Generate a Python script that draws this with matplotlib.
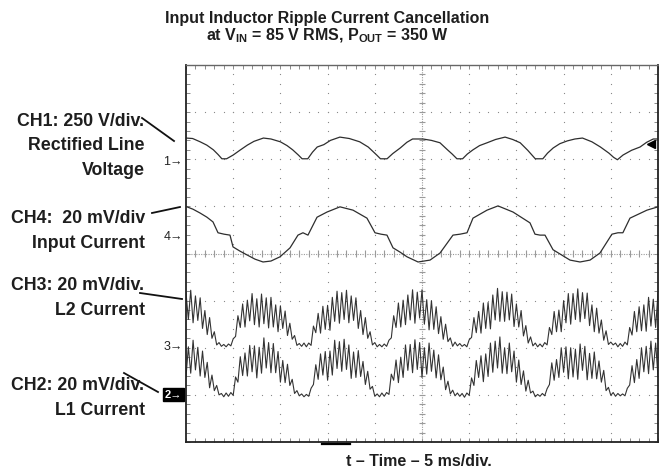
import numpy as np
import matplotlib
matplotlib.use("Agg")
import matplotlib.pyplot as plt
from matplotlib.lines import Line2D

plt.rcParams['font.family'] = ['Liberation Sans', 'DejaVu Sans']
plt.rcParams['mathtext.fontset'] = 'custom'
plt.rcParams['mathtext.rm'] = 'Liberation Sans'
plt.rcParams['mathtext.bf'] = 'Liberation Sans:bold'

# scope screen: 10 x 8 divisions, 5 ms/div horizontally
n_xdiv, n_ydiv = 10, 8
ms_per_div = 5

# CH1 rectified line voltage (time in ms, level in divisions)
ch1_t = [0.0, 0.7, 1.5, 2.2, 2.9, 3.4, 3.8, 4.3, 5.0, 5.7, 6.5, 7.2, 8.2, 9.0, 10.0,
         10.7, 11.3, 11.9, 12.3, 12.9, 13.4, 13.9, 14.6, 15.3, 16.3, 17.3, 18.4, 19.3,
         20.2, 20.6, 21.3, 21.9, 22.7, 23.4, 24.0, 25.1, 26.0, 26.9, 27.7, 28.2, 28.7,
         29.3, 29.8, 30.4, 31.1, 31.9, 32.8, 33.8, 34.6, 35.4, 36.2, 36.6, 37.0, 37.8,
         38.3, 38.9, 39.6, 40.4, 41.2, 42.0, 43.0, 43.9, 44.8, 45.3, 45.7, 46.3, 47.2,
         48.1, 48.8, 49.5, 50.0]
ch1_v = [6.45, 6.44, 6.37, 6.30, 6.20, 6.10, 6.01, 6.01, 6.09, 6.19, 6.30, 6.38, 6.45, 6.43, 6.37,
         6.29, 6.20, 6.09, 6.01, 6.01, 6.15, 6.26, 6.31, 6.40, 6.47, 6.44, 6.37, 6.26,
         6.09, 6.01, 6.01, 6.12, 6.24, 6.36, 6.43, 6.43, 6.40, 6.35, 6.20, 6.11, 6.01,
         6.01, 6.11, 6.20, 6.29, 6.35, 6.42, 6.47, 6.42, 6.35, 6.19, 6.10, 6.01, 6.01,
         6.13, 6.24, 6.33, 6.39, 6.43, 6.45, 6.37, 6.26, 6.13, 6.04, 5.99, 6.09, 6.19,
         6.26, 6.36, 6.43, 6.43]

# CH4 input current
ch4_t = [0.1, 0.74, 1.48, 2.22, 2.86, 3.39, 4.03, 4.66, 4.98, 5.72, 6.46, 7.31, 8.16, 9.0,
         9.96, 11.02, 11.86, 12.39, 12.92, 13.88, 14.94, 16.31, 17.69, 19.17, 20.02, 20.66,
         21.29, 21.93, 22.67, 23.41, 24.58, 25.85, 26.91, 28.28, 29.03, 29.77, 30.4, 31.89,
         33.05, 34.64, 36.44, 36.97, 37.5, 38.03, 38.88, 40.68, 41.74, 42.8, 43.85, 45.12,
         45.76, 46.28, 47.03, 48.83, 50.0]
ch4_v = [4.99, 4.94, 4.86, 4.77, 4.67, 4.44, 4.41, 4.39, 4.14, 4.05, 3.97, 3.88, 3.82, 3.84,
         3.93, 4.12, 4.39, 4.44, 4.39, 4.77, 4.88, 4.99, 4.92, 4.75, 4.44, 4.41,
         4.39, 4.12, 4.03, 3.93, 3.82, 3.86, 4.01, 4.39, 4.41, 4.44, 4.75, 4.92,
         5.01, 4.88, 4.65, 4.41, 4.39, 4.39, 4.08, 3.86, 3.82, 3.86, 4.01, 4.41,
         4.44, 4.44, 4.75, 4.92, 4.99]

# CH3 L2 current, sampled every 0.25 ms
ch3_v = [3.17, 2.60, 3.22, 2.53, 3.10, 2.58, 3.06, 2.41, 2.79, 2.28, 2.64, 2.20, 2.34, 2.06,
         2.11, 2.03, 2.07, 2.02, 2.08, 2.04, 2.19, 2.24, 2.68, 2.43, 2.93, 2.44, 3.01, 2.57,
         3.15, 2.49, 3.04, 2.44, 3.14, 2.51, 3.06, 2.42, 3.07, 2.44, 2.91, 2.34, 2.89, 2.41,
         2.78, 2.26, 2.52, 2.18, 2.26, 2.05,
         2.09, 2.03, 2.10, 2.02, 2.10, 2.05, 2.46, 2.32, 2.73, 2.31, 2.88, 2.39, 2.90, 2.37,
         3.07, 2.56, 3.20, 2.52, 3.17, 2.60, 3.22, 2.53, 3.10, 2.58, 3.06, 2.41, 2.79, 2.28,
         2.64, 2.20, 2.34, 2.06,
         2.11, 2.02, 2.07, 2.02, 2.08, 2.03, 2.16, 2.21, 2.68, 2.43, 2.95, 2.44, 3.01, 2.49,
         3.12, 2.59, 3.23, 2.52, 3.18, 2.63, 3.23, 2.50, 3.02, 2.38, 3.00, 2.39, 2.87, 2.30,
         2.66, 2.18, 2.50, 2.13, 2.21, 2.03,
         2.12, 2.04, 2.09, 2.03, 2.07, 2.02, 2.17, 2.22, 2.64, 2.32, 2.77, 2.31, 2.95, 2.41,
         2.96, 2.40, 3.12, 2.59, 3.26, 2.56, 3.19, 2.56, 3.18, 2.59, 3.14, 2.45, 2.93, 2.44,
         2.79, 2.25, 2.47, 2.10, 2.23, 2.04,
         2.10, 2.02, 2.08, 2.02, 2.11, 2.06, 2.43, 2.28, 2.77, 2.34, 2.80, 2.34, 3.00, 2.53,
         3.15, 2.50, 3.15, 2.60, 3.25, 2.55, 3.17, 2.62, 3.16, 2.47, 2.91, 2.34, 2.84, 2.31,
         2.59, 2.16, 2.36, 2.07, 2.12,
         2.06, 2.10, 2.02, 2.09, 2.03, 2.12, 2.06, 2.43, 2.27, 2.77, 2.34, 2.87, 2.36, 2.91,
         2.35, 3.07, 2.46, 3.03, 2.43, 3.17]

# CH2 L1 current, sampled every 0.25 ms
ch2_v = [1.38, 2.02, 1.46, 2.16, 1.53, 2.01, 1.40, 1.93, 1.37, 1.69, 1.15, 1.42, 1.09, 1.20,
         1.00, 1.03, 0.96, 1.04, 0.97, 1.05, 0.99, 1.38, 1.27, 1.81, 1.41, 1.89, 1.40, 2.05,
         1.49, 2.04, 1.36, 2.01, 1.46, 2.21, 1.57, 2.11, 1.47, 2.09, 1.47, 1.92, 1.27, 1.73,
         1.26, 1.65, 1.20, 1.33, 1.03, 1.09,
         0.98, 1.02, 0.96, 1.01, 0.97, 1.14, 1.22, 1.64, 1.33, 1.87, 1.42, 1.92, 1.31, 1.93,
         1.42, 2.16, 1.56, 2.13, 1.50, 2.18, 1.54, 2.06, 1.35, 1.91, 1.37, 1.94, 1.39, 1.71,
         1.22, 1.50, 1.12, 1.18,
         0.97, 1.02, 0.96, 1.04, 0.97, 1.05, 1.01, 1.44, 1.31, 1.74, 1.26, 1.80, 1.37, 2.06,
         1.52, 2.07, 1.47, 2.17, 1.54, 2.11, 1.37, 2.00, 1.44, 2.10, 1.50, 1.95, 1.36, 1.85,
         1.32, 1.59, 1.11, 1.29, 1.02, 1.10,
         0.98, 1.04, 0.97, 1.03, 0.95, 1.04, 0.99, 1.36, 1.20, 1.73, 1.37, 1.83, 1.28, 1.87,
         1.39, 2.10, 1.48, 2.14, 1.57, 2.23, 1.46, 2.00, 1.45, 2.10, 1.49, 1.93, 1.27, 1.74,
         1.22, 1.51, 1.08, 1.31, 1.04, 1.08,
         0.96, 1.01, 0.97, 1.03, 0.98, 1.13, 1.22, 1.68, 1.31, 1.75, 1.37, 2.00, 1.48, 2.02,
         1.34, 2.00, 1.38, 1.97, 1.33, 2.08, 1.52, 2.03, 1.32, 1.88, 1.35, 1.91, 1.34, 1.72,
         1.27, 1.52, 1.09, 1.16, 0.99,
         1.05, 0.97, 1.03, 0.98, 1.02, 0.98, 1.14, 1.21, 1.62, 1.26, 1.75, 1.35, 2.00, 1.49,
         2.03, 1.45, 2.14, 1.53, 2.10, 1.38]

W, H = 659, 469


def fx(px):
    return px / W


def fy(py):
    return 1 - py / H


fig = plt.figure(figsize=(W / 100, H / 100), dpi=100)
ax = fig.add_axes([fx(186), fy(442), fx(658) - fx(186), fy(65) - fy(442)])
t_end = n_xdiv * ms_per_div
ax.set_xlim(0, t_end)
ax.set_ylim(0, n_ydiv)

# graticule: dotted division lines
dot_kw = dict(ls='none', marker='s', ms=0.8, color='#8a8a8a', mec='none')
for k in range(1, n_xdiv):
    if k == n_xdiv // 2:
        continue
    ys = np.arange(0.2, n_ydiv, 0.2)
    ax.plot(np.full(len(ys), k * ms_per_div), ys, **dot_kw)
for k in range(1, n_ydiv):
    if k == n_ydiv // 2:
        continue
    xs = np.arange(1, t_end, 1)
    ax.plot(xs, np.full(len(xs), k), **dot_kw)

# centre cross lines with minor ticks
xc, yc = t_end / 2, n_ydiv / 2
ax.axhline(yc, ls=(0, (1, 1.2)), color='#9a9a9a', lw=0.8)
ax.axvline(xc, ls=(0, (1, 1.2)), color='#9a9a9a', lw=0.8)
ax.vlines(np.arange(1, t_end, 1), yc - 0.07, yc + 0.07, color='#9a9a9a', lw=0.8)
ax.hlines(np.arange(0.2, n_ydiv, 0.2), xc - 0.35, xc + 0.35, color='#9a9a9a', lw=0.8)

# traces
ax.plot(np.linspace(0, t_end, len(ch3_v)), ch3_v, color='#333333', lw=0.8)
ax.plot(np.linspace(0, t_end, len(ch2_v)), ch2_v, color='#333333', lw=0.8)
ax.plot(ch1_t, ch1_v, color='#2e2e2e', lw=0.9)
ax.plot(ch4_t, ch4_v, color='#2e2e2e', lw=0.9)

# border ticks
ax.set_xticks(np.arange(0, t_end + 0.1, 1))
ax.set_yticks(np.arange(0, n_ydiv + 0.01, 0.2))
ax.tick_params(direction='in', length=3, width=0.7, color='#8a8a8a',
               top=True, right=True, labelbottom=False, labelleft=False)
for side in ['left', 'bottom', 'right']:
    ax.spines[side].set_color('#222222')
    ax.spines[side].set_linewidth(1.3)
ax.spines['top'].set_color('#666666')
ax.spines['top'].set_linewidth(1.0)

# trigger level marker on the right edge
fig.add_artist(Line2D([fx(651)], [fy(144)], marker='<', ms=6, color='black',
                      transform=fig.transFigure))
fig.add_artist(Line2D([fx(322), fx(350)], [fy(444), fy(444)], color='black', lw=1.6,
                      transform=fig.transFigure))

# title
fig.text(fx(327), fy(23), "Input Inductor Ripple Current Cancellation", ha='center',
         va='baseline', fontsize=11.5, fontweight='bold', color='#1e1e1e')
fig.text(fx(327), fy(40), r"at V$_{\mathbf{IN}}$ = 85 V RMS, P$_{\mathbf{OUT}}$ = 350 W",
         ha='center', va='baseline', fontsize=11.5, fontweight='bold', color='#1e1e1e')

# x axis caption
fig.text(fx(419), fy(466), "t \u2013 Time \u2013 5 ms/div.", ha='center', va='baseline',
         fontsize=11.5, fontweight='bold', color='#1e1e1e')

# channel labels
label_kw = dict(ha='right', va='baseline', fontsize=12.8, fontweight='bold', color='#1e1e1e')
labels = [(144, 126, "CH1: 250 V/div."), (145, 150, "Rectified Line"), (145, 175, "Voltage"),
          (145, 223, "CH4:  20 mV/div"), (145, 248, "Input Current"),
          (144, 290, "CH3: 20 mV/div."), (145, 315, "L2 Current"),
          (144, 390, "CH2: 20 mV/div."), (145, 415, "L1 Current")]
for x, y, s in labels:
    fig.text(fx(x), fy(y), s, **label_kw)

# pointer lines from labels to traces
pointers = [((142, 118), (174, 141)), ((152, 213), (180, 207)),
            ((140, 293), (182, 299)), ((124, 373), (158, 392))]
for (x0, y0), (x1, y1) in pointers:
    fig.add_artist(Line2D([fx(x0), fx(x1)], [fy(y0), fy(y1)], color='#111111', lw=1.3,
                          transform=fig.transFigure))

# channel ground markers
mark_kw = dict(ha='right', va='center', fontsize=9, color='#222222')
fig.text(fx(183), fy(162), "1\u2192", **mark_kw)
fig.text(fx(183), fy(237), "4\u2192", **mark_kw)
fig.text(fx(183), fy(347), "3\u2192", **mark_kw)
fig.text(fx(182), fy(394.5), "2\u2192", ha='right', va='center', fontsize=8, color='white',
         fontweight='bold', bbox=dict(boxstyle='square,pad=0.15', fc='black', ec='black'))

fig.savefig("out.png", dpi=100, facecolor='white')
